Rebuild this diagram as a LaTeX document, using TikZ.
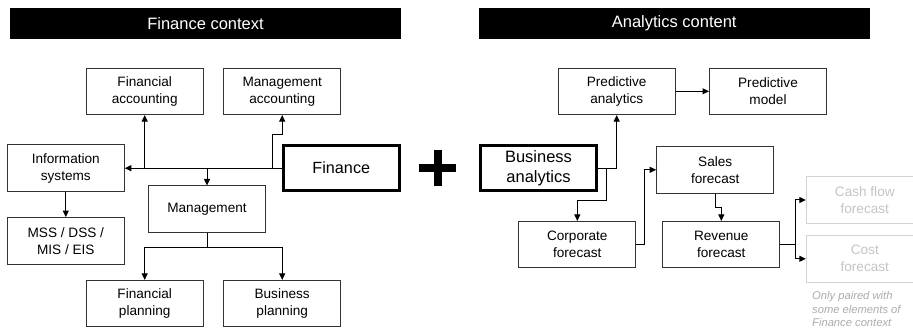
\documentclass[tikz,border=0pt]{standalone}
\usepackage{fontspec}
\setmainfont{Liberation Sans}
\usetikzlibrary{arrows.meta}

\tikzset{
  box/.style={draw=black!80, line width=1pt, minimum width=117pt, minimum height=46.5pt,
    inner sep=0pt, align=center, font=\fontsize{13.6}{17}\selectfont},
  keybox/.style={box, line width=3pt, minimum width=116.5pt, minimum height=45.5pt,
    draw=black},
  dimbox/.style={box, draw=black!17, text=black!23},
  headbar/.style={fill=black, text=white, minimum width=391pt, minimum height=31pt,
    inner sep=0pt, font=\fontsize{16.5}{19}\selectfont},
  link/.style={draw=black, line width=1pt},
  arr/.style={link, -{Triangle[length=6.5pt,width=6pt]}},
  note/.style={text=black!33, align=left, inner sep=0pt,
    font=\fontsize{11.2}{13.7}\selectfont\itshape}
}

\begin{document}
\begin{tikzpicture}[x=1pt, y=-1pt]
\useasboundingbox (0,0) rectangle (913,331);

% section headers
\node[headbar] (hfin) at (205.5,23.5) {Finance context};
\node[headbar] (hana) at (674.2,23.5) {Analytics content};

% finance context
\node[box] (fa) at (144.7,91.3) {Financial\\accounting};
\node[box] (ma) at (282.2,91.3) {Management\\accounting};
\node[box] (is) at (65.8,168) {Information\\systems};
\node[keybox, font=\fontsize{16.2}{19}\selectfont] (fin) at (341.3,168.2) {Finance};
\node[box] (mgmt) at (207,209.2) {Management};
\node[box] (mss) at (65.8,240.8) {MSS / DSS /\\MIS / EIS};
\node[box] (fp) at (144.7,303.7) {Financial\\planning};
\node[box] (bp) at (282.2,303.7) {Business\\planning};

\draw[arr] (fin.west) -- (fin.west -| is.east);
\draw[arr] (fa.south |- fin.west) -- (fa.south);
\draw[arr] (mgmt.north |- fin.west) -- (mgmt.north);
\draw[arr] ([xshift=-9pt]fin.west) |- ([yshift=-19.5pt]ma.south) -- (ma.south);
\draw[arr] (is.south) -- (mss.north);
\draw[link] (mgmt.south) -- ++(0,14.6) coordinate (mj);
\draw[arr] (mj) -| (fp.north);
\draw[arr] (mj) -| (bp.north);

% plus sign
\draw[line width=8pt] (419,168) -- (456,168) (437.5,150) -- (437.5,186);

% analytics content
\node[box] (pa) at (616.7,91.3) {Predictive\\analytics};
\node[box] (pm) at (768,91.3) {Predictive\\model};
\node[keybox, font=\fontsize{16.5}{20}\selectfont] (ba) at (538.5,168.2) {Business\\analytics};
\node[box] (sf) at (715.2,169.8) {Sales\\forecast};
\node[box] (cf) at (577.3,244.7) {Corporate\\forecast};
\node[box] (rf) at (721.3,244.7) {Revenue\\forecast};
\node[dimbox, anchor=west] (cash) at (805.8,200) {Cash flow\\forecast};
\node[dimbox, anchor=west] (cost) at (805.8,258.8) {Cost\\forecast};
\node[note, anchor=north west] (nt) at (812,291) {Only paired with\\some elements of\\Finance context};

\draw[arr] (pa.east) -- (pm.west);
\draw[arr] (ba.east) -| (pa.south);
\draw[arr] ([xshift=8.7pt]ba.east) |- ([yshift=20pt]cf.north) -- (cf.north);
\draw[arr] (cf.east) -- ++(7.7,0) |- (sf.west);
\draw[arr] (sf.south) -- ++(0,14.4) -| (rf.north);
\draw[link] (rf.east) -- ++(15,0) coordinate (rj);
\draw[arr] (rj) |- (cash.west);
\draw[arr] (rj) |- (cost.west);
\end{tikzpicture}
\end{document}
